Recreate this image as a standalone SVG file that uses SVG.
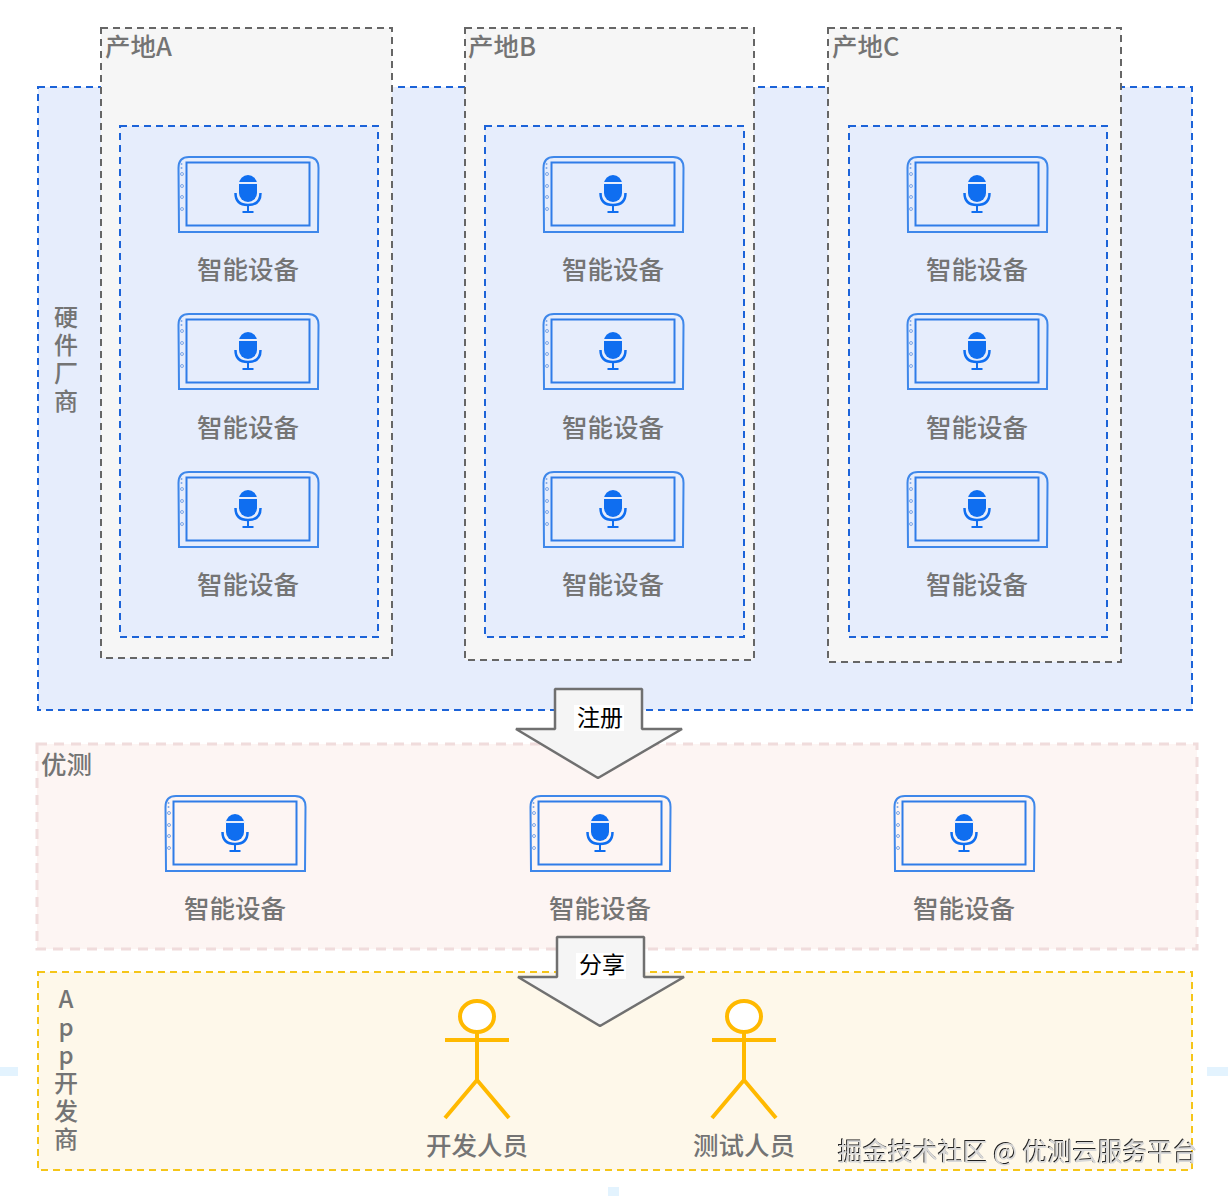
<svg xmlns="http://www.w3.org/2000/svg" width="1228" height="1196" viewBox="0 0 1228 1196">
<style>
text{font-family:"Noto Sans CJK SC","Liberation Sans",sans-serif;fill:#747474;font-size:25.5px;font-weight:500}
.c{text-anchor:middle}
.v{font-size:24px;font-weight:500}
.site{fill:#f6f6f6;stroke:#666;stroke-width:2;stroke-dasharray:7 5}
.blue{fill:#e6edfc;stroke:#1c63d8;stroke-width:2;stroke-dasharray:7 5}
.arrow{fill:#f5f5f5;stroke:#707070;stroke-width:2.500;stroke-linejoin:bevel}
.lb{fill:#000;font-size:23px;font-weight:400}
.actor{fill:none;stroke:#ffb900;stroke-width:4}
.chip{fill:#e3f3fe}
.wm{fill:#d8d8d8;font-size:25px;font-weight:400}
</style>
<defs>
<filter id="sh" x="-5%" y="-20%" width="110%" height="140%"><feDropShadow dx="-1" dy="-1" stdDeviation="0.4" flood-color="#222"/></filter>
<symbol id="dev" width="142" height="78" viewBox="0 0 142 78" overflow="visible">
<path d="M1 76 L0.5 12 Q0.5 1 11 1 L130 1 Q140.500 1 140.500 12 L140 76 Z" fill="none" stroke="#3e87ea" stroke-width="2"/>
<rect x="8.500" y="6.500" width="123" height="63" fill="none" stroke="#2f7ce8" stroke-width="2"/>
<g fill="none" stroke="#7fa8e8" stroke-width="1"><circle cx="4" cy="18" r="1.500"/><circle cx="4" cy="30" r="1.500"/><circle cx="4" cy="41" r="1.500"/><circle cx="4" cy="53" r="1.500"/></g>
<circle cx="3.500" cy="8" r="1" fill="#7fa8e8"/><circle cx="3.500" cy="12" r="1" fill="#7fa8e8"/>
<rect x="61" y="19" width="18" height="27" rx="9" fill="#0f6ef0"/>
<rect x="60" y="26" width="20" height="2" fill="#e6edfc"/>
<path d="M57.500 37 Q57.500 49 70 49 Q82.500 49 82.500 37" fill="none" stroke="#0f6ef0" stroke-width="2.500"/>
<path d="M70 49 V56 M64.500 56 H75.500" fill="none" stroke="#0f6ef0" stroke-width="2"/>
</symbol>
</defs>
<rect width="1228" height="1196" fill="#fff"/>
<rect class="chip" x="0" y="1067" width="18" height="9"/>
<rect class="chip" x="1207" y="1067" width="21" height="9"/>
<rect class="chip" x="608" y="1187" width="11" height="9"/>

<g id="vendor"><rect class="blue" x="38" y="87" width="1154" height="623"/>
<text class="c v" x="66" y="326">硬<tspan x="66" dy="28">件</tspan><tspan x="66" dy="28">厂</tspan><tspan x="66" dy="28">商</tspan></text></g>

<g id="siteA"><rect class="site" x="101" y="28" width="291" height="630"/><text x="105" y="56">产地A</text><rect class="blue" x="120" y="126" width="258" height="511"/></g>
<g id="siteB"><rect class="site" x="465" y="28" width="289" height="632"/><text x="468" y="56">产地B</text><rect class="blue" x="485" y="126" width="259" height="511"/></g>
<g id="siteC"><rect class="site" x="828" y="28" width="293" height="634"/><text x="832" y="56">产地C</text><rect class="blue" x="849" y="126" width="258" height="511"/></g>

<g id="a1"><use href="#dev" x="178" y="156"/><text class="c" x="248" y="279">智能设备</text></g>
<g id="a2"><use href="#dev" x="178" y="313"/><text class="c" x="248" y="437">智能设备</text></g>
<g id="a3"><use href="#dev" x="178" y="471"/><text class="c" x="248" y="594">智能设备</text></g>
<g id="b1"><use href="#dev" x="543" y="156"/><text class="c" x="613" y="279">智能设备</text></g>
<g id="b2"><use href="#dev" x="543" y="313"/><text class="c" x="613" y="437">智能设备</text></g>
<g id="b3"><use href="#dev" x="543" y="471"/><text class="c" x="613" y="594">智能设备</text></g>
<g id="c1"><use href="#dev" x="907" y="156"/><text class="c" x="977" y="279">智能设备</text></g>
<g id="c2"><use href="#dev" x="907" y="313"/><text class="c" x="977" y="437">智能设备</text></g>
<g id="c3"><use href="#dev" x="907" y="471"/><text class="c" x="977" y="594">智能设备</text></g>

<g id="youce"><rect x="37" y="744" width="1160" height="205" fill="#fdf5f3" stroke="#f0dcdc" stroke-width="3" stroke-dasharray="10 7"/><text x="41" y="774">优测</text></g>
<g id="t1"><use href="#dev" x="165" y="795"/><text class="c" x="235" y="918">智能设备</text></g>
<g id="t2"><use href="#dev" x="530" y="795"/><text class="c" x="600" y="918">智能设备</text></g>
<g id="t3"><use href="#dev" x="894" y="795"/><text class="c" x="964" y="918">智能设备</text></g>

<g id="appdev"><rect x="38" y="972" width="1154" height="198" fill="#fef8ea" stroke="#f5c518" stroke-width="2" stroke-dasharray="7 5"/>
<text class="c v" x="66" y="1008">A<tspan x="66" dy="28">p</tspan><tspan x="66" dy="28">p</tspan><tspan x="66" dy="28">开</tspan><tspan x="66" dy="28">发</tspan><tspan x="66" dy="28">商</tspan></text></g>

<g id="actor1"><ellipse cx="477" cy="1016.500" rx="17" ry="15.500" fill="#fff" stroke="#ffb900" stroke-width="4"/><path class="actor" d="M477 1032V1080M445 1040H509M445 1118L477 1080L509 1118"/><text class="c" x="477" y="1155">开发人员</text></g>
<g id="actor2"><ellipse cx="744" cy="1016.500" rx="17" ry="15.500" fill="#fff" stroke="#ffb900" stroke-width="4"/><path class="actor" d="M744 1032V1080M712 1040H776M712 1118L744 1080L776 1118"/><text class="c" x="744" y="1155">测试人员</text></g>

<g id="connectors">
<g id="register"><path class="arrow" d="M555 689H642V729H682L598 778L516 729H555Z"/><rect x="574" y="705" width="50" height="26" fill="#fff"/><text class="c lb" x="600" y="726">注册</text></g>
<g id="share"><path class="arrow" d="M557 937H644V977H684L600 1026L518 977H557Z"/><rect x="576" y="953" width="50" height="26" fill="#fff"/><text class="c lb" x="602" y="973">分享</text></g>
</g>
<text class="wm" x="838" y="1161" filter="url(#sh)">掘金技术社区 @ 优测云服务平台</text>
</svg>
